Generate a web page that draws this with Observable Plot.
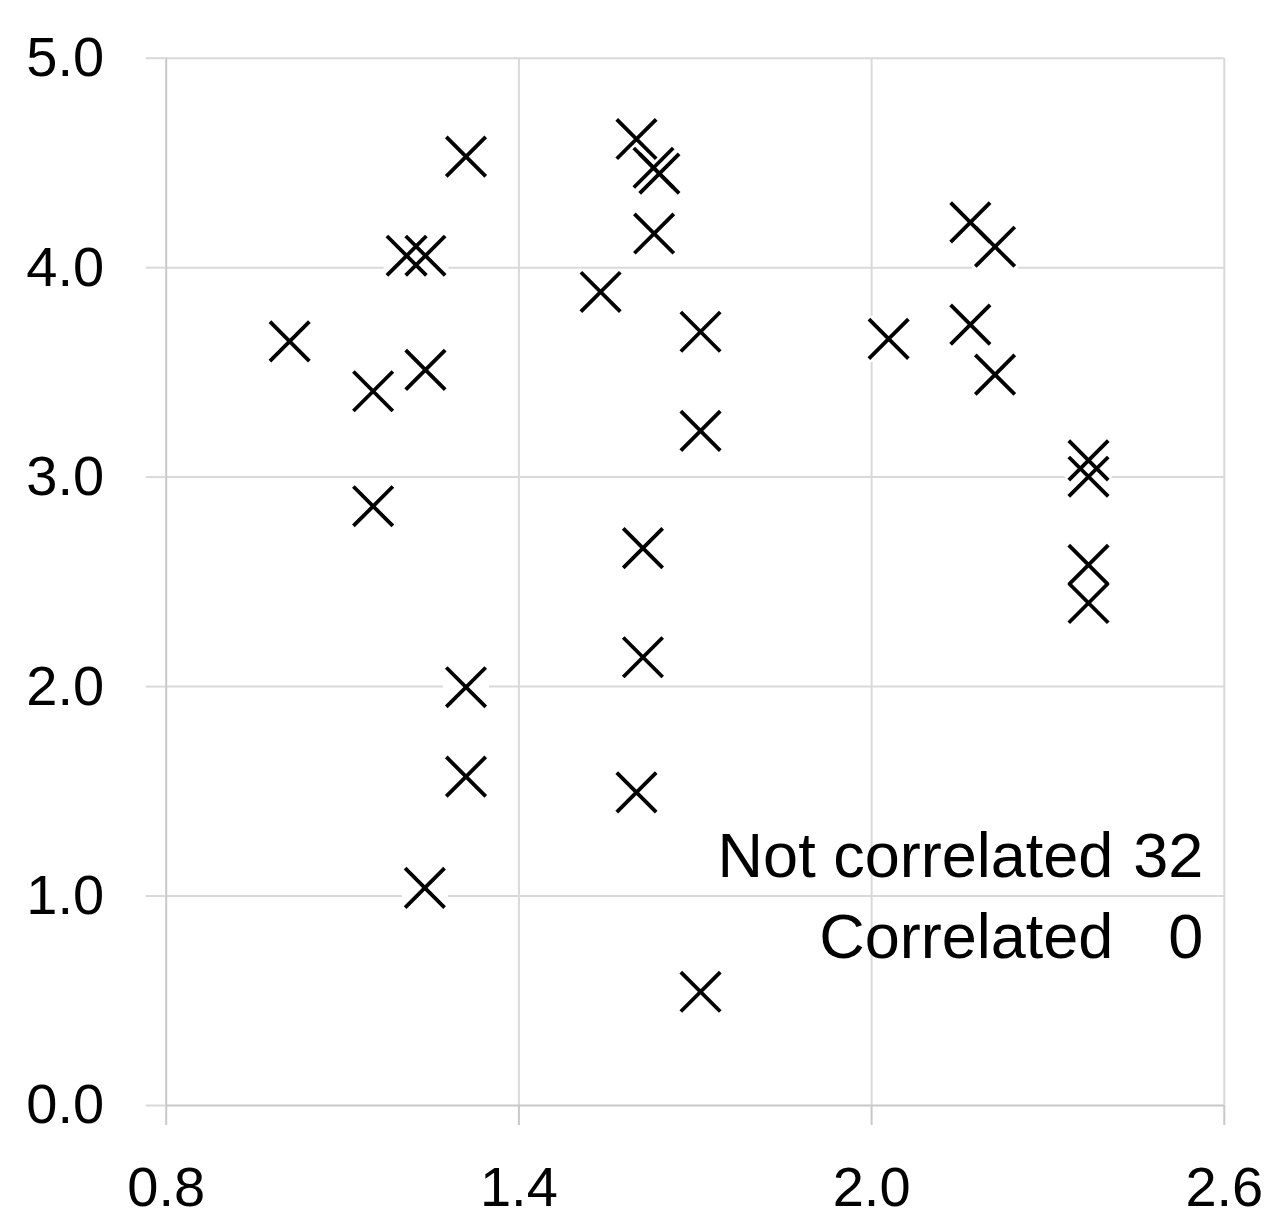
<!DOCTYPE html>
<html>
<head>
<meta charset="utf-8">
<script src="https://cdn.jsdelivr.net/npm/d3@7"></script>
<script src="https://cdn.jsdelivr.net/npm/@observablehq/plot@0.6"></script>
<style>
  html, body { margin: 0; padding: 0; background: #ffffff; }
  #chart { width: 1273px; height: 1215px; }
</style>
</head>
<body>
<div id="chart"></div>
<script>
// Data
const xValues = [
  1.010, 1.152, 1.152, 1.209, 1.241, 1.241, 1.310, 1.310, 1.310, 1.240,
  1.539, 1.600, 1.629, 1.639, 1.630, 1.709, 1.709, 1.611, 1.611, 1.600, 1.709,
  2.029, 2.168, 2.210, 2.168, 2.210, 2.369, 2.369, 2.369, 2.369
];
const yValues = [
  3.648, 3.410, 2.861, 4.057, 4.057, 3.512, 4.530, 1.997, 1.570, 1.039,
  3.884, 4.614, 4.477, 4.449, 4.163, 3.694, 3.221, 2.661, 2.140, 1.495, 0.543,
  3.660, 4.216, 4.100, 3.728, 3.489, 3.080, 3.002, 2.581, 2.399
];
const xTicks = [0.8, 1.4, 2.0, 2.6];
const yTicks = [0, 1, 2, 3, 4, 5];
const annotationLabels = ["Not correlated", "Correlated"];
const annotationCounts = [32, 0];

const points = xValues.map((x, i) => ({x, y: yValues[i]}));

const gridColor = "#d9d9d9";
const axisColor = "#c8c8c8";
const font = "'Liberation Sans', Arial, sans-serif";

const chart = Plot.plot({
  width: 1273,
  height: 1215,
  marginLeft: 165.7,
  marginRight: 49.2,
  marginTop: 57.7,
  marginBottom: 110,
  style: {fontFamily: font, background: "#ffffff", color: "#000000", overflow: "visible"},
  x: {domain: [0.8, 2.6], axis: null, label: null},
  y: {domain: [0, 5], axis: null, label: null},
  marks: [
    Plot.ruleX(xTicks.slice(1), {stroke: gridColor, strokeWidth: 2}),
    Plot.ruleY(yTicks.slice(1), {stroke: gridColor, strokeWidth: 2}),
    Plot.ruleX(xTicks.slice(0, 1), {stroke: axisColor, strokeWidth: 2}),
    Plot.ruleY(yTicks.slice(0, 1), {stroke: axisColor, strokeWidth: 2}),
    Plot.axisX(xTicks, {
      label: null, tickSize: 20, tickPadding: 41, stroke: axisColor, strokeWidth: 2,
      fill: "#000000", fontSize: 56, tickFormat: d3.format(".1f")
    }),
    Plot.axisY(yTicks, {
      label: null, tickSize: 20, tickPadding: 42, stroke: gridColor, strokeWidth: 2,
      fill: "#000000", fontSize: 56, tickFormat: d3.format(".1f")
    }),
    // white backing squares (break the grid lines under markers)
    Plot.dot(points, {x: "x", y: "y", symbol: "square", r: 26, fill: "#ffffff", stroke: "none"}),
    // cross markers
    Plot.dot(points, {x: "x", y: "y", symbol: "times", r: 18, stroke: "#000000", strokeWidth: 3.8}),
    // annotation
    Plot.text([annotationLabels[0]], {frameAnchor: "bottom-right", textAnchor: "end", lineAnchor: "bottom",
      dx: -111, dy: -228.5, fontSize: 63, fill: "#000000"}),
    Plot.text([String(annotationCounts[0])], {frameAnchor: "bottom-right", textAnchor: "end", lineAnchor: "bottom",
      dx: -21, dy: -228.5, fontSize: 63, fill: "#000000"}),
    Plot.text([annotationLabels[1]], {frameAnchor: "bottom-right", textAnchor: "end", lineAnchor: "bottom",
      dx: -111, dy: -148, fontSize: 63, fill: "#000000"}),
    Plot.text([String(annotationCounts[1])], {frameAnchor: "bottom-right", textAnchor: "end", lineAnchor: "bottom",
      dx: -21, dy: -148, fontSize: 63, fill: "#000000"})
  ]
});

document.getElementById("chart").appendChild(chart);
</script>
</body>
</html>
